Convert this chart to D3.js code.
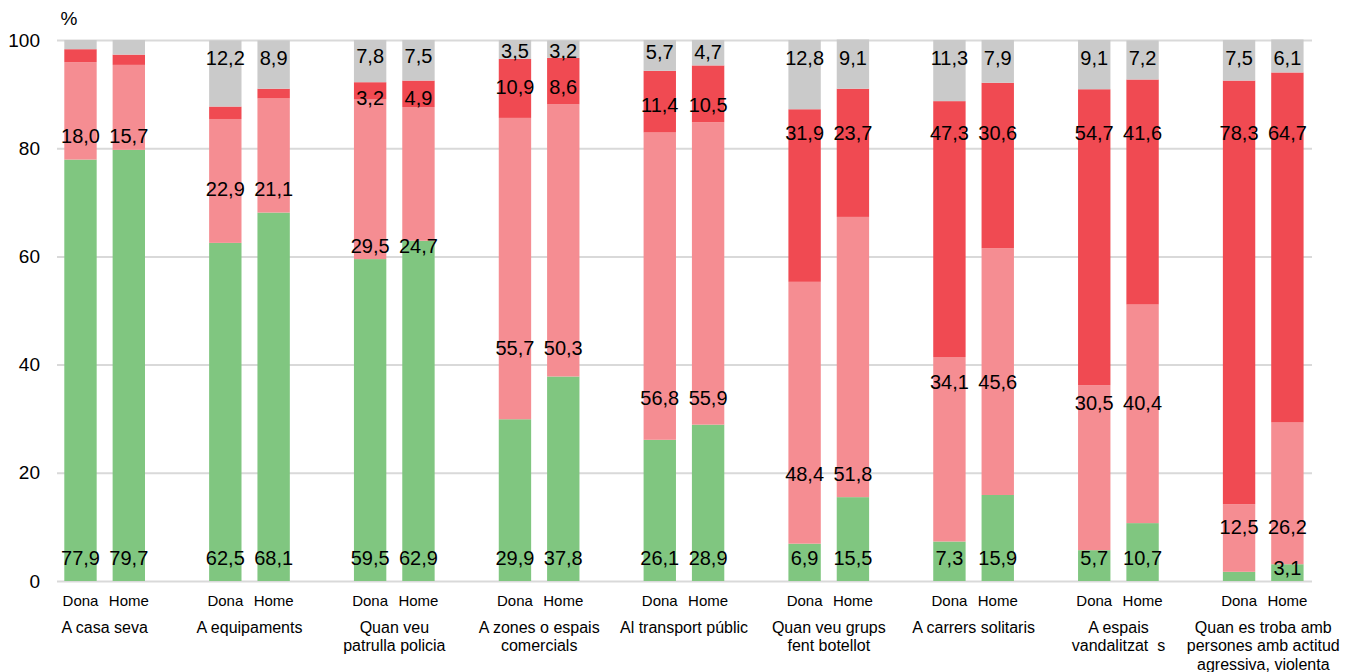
<!DOCTYPE html>
<html>
<head>
<meta charset="utf-8">
<script src="https://cdn.jsdelivr.net/npm/d3@7"></script>
<style>
body { margin: 0; background: #fff; }
text { font-family: "Liberation Sans", Arial, sans-serif; fill: #000; }
</style>
</head>
<body>
<script>
var categories = [
	["A casa seva"],
	["A equipaments"],
	["Quan veu", "patrulla policia"],
	["A zones o espais", "comercials"],
	["Al transport públic"],
	["Quan veu grups", "fent botellot"],
	["A carrers solitaris"],
	["A espais", "vandalitzat  s"],
	["Quan es troba amb", "persones amb actitud", "agressiva, violenta"]
];
var genders = ["Dona", "Home"];

// one value per bar: Dona, Home for each category in order
var green = [77.9, 79.7, 62.5, 68.1, 59.5, 62.9, 29.9, 37.8, 26.1, 28.9, 6.9, 15.5, 7.3, 15.9, 5.7, 10.7, 1.7, 3.1];
var pink  = [18.0, 15.7, 22.9, 21.1, 29.5, 24.7, 55.7, 50.3, 56.8, 55.9, 48.4, 51.8, 34.1, 45.6, 30.5, 40.4, 12.5, 26.2];
var red   = [2.4, 1.9, 2.3, 1.8, 3.2, 4.9, 10.9, 8.6, 11.4, 10.5, 31.9, 23.7, 47.3, 30.6, 54.7, 41.6, 78.3, 64.7];
var grey  = [1.7, 2.7, 12.2, 8.9, 7.8, 7.5, 3.5, 3.2, 5.7, 4.7, 12.8, 9.1, 11.3, 7.9, 9.1, 7.2, 7.5, 6.1];

// where the value labels sit in each category (in %), as placed in the original
var greenLabelAt = [4.3, 4.3, 4.3, 4.3, 4.3, 4.3, 4.3, 4.3, 2.4];
var pinkLabelAt  = [82.3, 72.5, 62.0, 43.0, 33.8, 19.8, 36.7, 32.9, 10.0];
var redLabelAt   = [null, null, 89.2, 91.4, 88.0, 82.8, 82.8, 82.8, 82.8];
var greyLabelAt  = [null, 96.7, 97.1, 98.0, 97.7, 96.7, 96.7, 96.7, 96.7];

var yTicks = [0, 20, 40, 60, 80, 100];

var keys = ["green", "pink", "red", "grey"];
var colors = {green: "#80c680", pink: "#f58d92", red: "#f04a52", grey: "#cacaca"};
var labelAt = {green: greenLabelAt, pink: pinkLabelAt, red: redLabelAt, grey: greyLabelAt};

var width = 1356, height = 672;
var plotLeft = 57, plotRight = 1312;

var rows = [];
categories.forEach(function (c, i) {
	genders.forEach(function (g, j) {
		var k = i * 2 + j;
		rows.push({cat: i, gender: g, green: green[k], pink: pink[k], red: red[k], grey: grey[k]});
	});
});

var series = d3.stack().keys(keys)(rows);

var x0 = d3.scaleBand()
	.domain(d3.range(categories.length))
	.range([32.3, 1335.7]);

var x1 = d3.scaleBand()
	.domain(genders)
	.range([32, 112.7])
	.paddingInner(0.33);

var y = d3.scaleLinear()
	.domain([0, 100])
	.range([581, 40]);

var locale = d3.formatLocale({decimal: ",", thousands: ".", grouping: [3], currency: ["", "€"]});
var fmt = locale.format(".1f");

var svg = d3.select("body").append("svg")
	.attr("width", width)
	.attr("height", height);

// gridlines + tick labels
var yAxis = svg.append("g")
	.attr("transform", "translate(" + plotLeft + ",0)")
	.call(d3.axisLeft(y).tickValues(yTicks).tickSize(-(plotRight - plotLeft)).tickPadding(17));
yAxis.select(".domain").remove();
yAxis.selectAll("line").attr("stroke", "#d9d9d9").attr("stroke-width", 2);
yAxis.selectAll("text")
	.style("font-family", "'Liberation Sans', Arial, sans-serif")
	.style("font-size", "19px")
	.attr("fill", "#000");

svg.append("text")
	.attr("x", 69)
	.attr("y", 18)
	.attr("text-anchor", "middle")
	.attr("dominant-baseline", "central")
	.style("font-size", "19px")
	.text("%");

// bars
var layer = svg.append("g").selectAll("g")
	.data(series)
	.enter().append("g")
	.attr("fill", function (s) { return colors[s.key]; });

layer.selectAll("rect")
	.data(function (s) { return s; })
	.enter().append("rect")
	.attr("x", function (d) { return x0(d.data.cat) + x1(d.data.gender); })
	.attr("width", x1.bandwidth())
	.attr("y", function (d) { return y(d[1]); })
	.attr("height", function (d) { return y(d[0]) - y(d[1]); });

// value labels, small segments are left without one
var labels = [];
series.forEach(function (s) {
	s.forEach(function (d) {
		var v = d.data[s.key];
		var at = labelAt[s.key][d.data.cat];
		if (v >= 3 && at != null) {
			labels.push({x: x0(d.data.cat) + x1(d.data.gender) + x1.bandwidth() / 2, level: at, value: v});
		}
	});
});

svg.append("g").selectAll("text")
	.data(labels)
	.enter().append("text")
	.attr("x", function (d) { return d.x; })
	.attr("y", function (d) { return y(d.level); })
	.attr("text-anchor", "middle")
	.attr("dominant-baseline", "central")
	.style("font-size", "20px")
	.text(function (d) { return fmt(d.value); });

// gender + category labels under the axis
svg.append("g").selectAll("text")
	.data(rows)
	.enter().append("text")
	.attr("x", function (d) { return x0(d.cat) + x1(d.gender) + x1.bandwidth() / 2; })
	.attr("y", 600)
	.attr("text-anchor", "middle")
	.attr("dominant-baseline", "central")
	.style("font-size", "15px")
	.text(function (d) { return d.gender; });

var catText = svg.append("g").selectAll("text")
	.data(categories)
	.enter().append("text")
	.attr("text-anchor", "middle")
	.attr("y", 627)
	.style("font-size", "16px")
	.style("white-space", "pre");

catText.selectAll("tspan")
	.data(function (lines, i) { return lines.map(function (l) { return {text: l, cat: i}; }); })
	.enter().append("tspan")
	.attr("x", function (d) { return x0(d.cat) + x0.bandwidth() / 2; })
	.attr("y", function (d, i) { return 627 + i * 18.5; })
	.attr("dominant-baseline", "central")
	.text(function (d) { return d.text; });
</script>
</body>
</html>
